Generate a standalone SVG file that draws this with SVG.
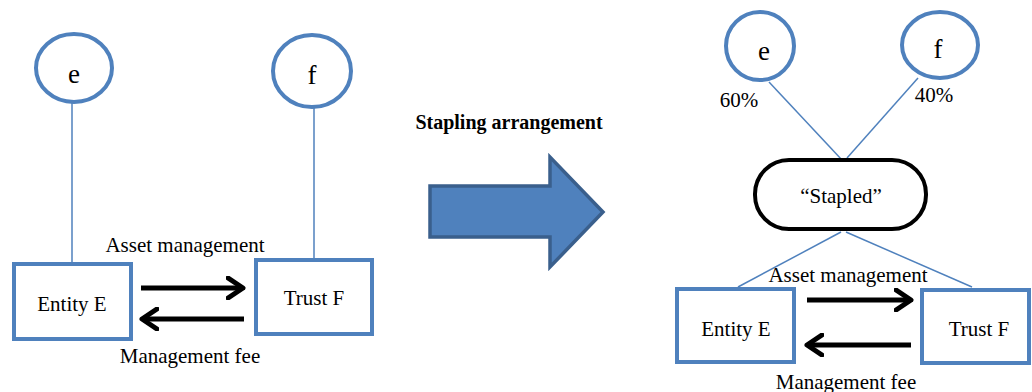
<svg xmlns="http://www.w3.org/2000/svg" width="1032" height="392" viewBox="0 0 1032 392">
<style>
.n{fill:#fff;stroke:#4F81BD;stroke-width:4}
.c{stroke:#4F81BD;stroke-width:1.5;fill:none}
.t{font-family:"Liberation Serif","Times New Roman",serif;font-size:21px;fill:#000}
.m{text-anchor:middle}
.big{font-size:27px}
.a{stroke:#000;stroke-width:5;fill:none;marker-end:url(#h)}
</style>
<defs>
<marker id="h" markerUnits="userSpaceOnUse" viewBox="0 0 20 24" refX="17" refY="12" markerWidth="20" markerHeight="24" orient="auto">
<path d="M2,2 L17,12 L2,22" fill="none" stroke="#000" stroke-width="5" stroke-linecap="round" stroke-linejoin="round"/>
</marker>
</defs>
<rect width="1032" height="392" fill="#fff"/>
<g id="connectors">
<line class="c" x1="72" y1="103" x2="72" y2="263"/>
<line class="c" x1="314" y1="107" x2="314" y2="263"/>
<line class="c" x1="769" y1="82" x2="842" y2="160"/>
<line class="c" x1="918" y1="78" x2="847" y2="158"/>
<line class="c" x1="841" y1="232" x2="738" y2="287"/>
<line class="c" x1="846" y1="232" x2="972" y2="287"/>
<line class="a" x1="141" y1="288" x2="243" y2="288"/>
<line class="a" x1="244" y1="319" x2="142" y2="319"/>
<line class="a" x1="807" y1="300" x2="911" y2="300"/>
<line class="a" x1="911" y1="345" x2="807" y2="345"/>
</g>
<g id="e1"><ellipse class="n" cx="74" cy="68" rx="38" ry="34"/><text class="t m big" x="74" y="83">e</text></g>
<g id="f1"><ellipse class="n" cx="312" cy="71" rx="39" ry="36"/><text class="t m big" x="312" y="84">f</text></g>
<g id="entityE1"><rect class="n" x="14" y="264" width="117" height="75"/><text class="t m" x="72" y="311">Entity E</text></g>
<g id="trustF1"><rect class="n" x="256" y="260" width="116" height="74"/><text class="t m" x="314" y="305">Trust F</text></g>
<text class="t m" x="185" y="252">Asset management</text>
<text class="t m" x="190" y="363">Management fee</text>
<g id="stapling">
<text class="t m" x="509" y="129" font-weight="bold" style="font-size:20px">Stapling arrangement</text>
<path d="M430,186 L550,186 L550,157 L603,212 L550,267 L550,237 L430,237 Z" fill="#4F81BD" stroke="#3A5F8C" stroke-width="3.5"/>
</g>
<g id="e2"><ellipse class="n" cx="760" cy="46" rx="34" ry="34"/><text class="t m big" x="764" y="60">e</text></g>
<g id="f2"><ellipse class="n" cx="940" cy="45" rx="38" ry="33"/><text class="t m big" x="938" y="58">f</text></g>
<text class="t m" x="739" y="107">60%</text>
<text class="t m" x="934" y="102">40%</text>
<g id="stapled"><rect x="755" y="160" width="171" height="69" rx="34" ry="34" fill="#fff" stroke="#000" stroke-width="4"/><text class="t m" x="841" y="203">“Stapled”</text></g>
<g id="entityE2"><rect class="n" x="677" y="289" width="117" height="73"/><text class="t m" x="736" y="336">Entity E</text></g>
<g id="trustF2"><rect class="n" x="922" y="290" width="107" height="73"/><text class="t m" x="979" y="336">Trust F</text></g>
<text class="t m" x="848" y="282">Asset management</text>
<text class="t m" x="846" y="389">Management fee</text>
</svg>
